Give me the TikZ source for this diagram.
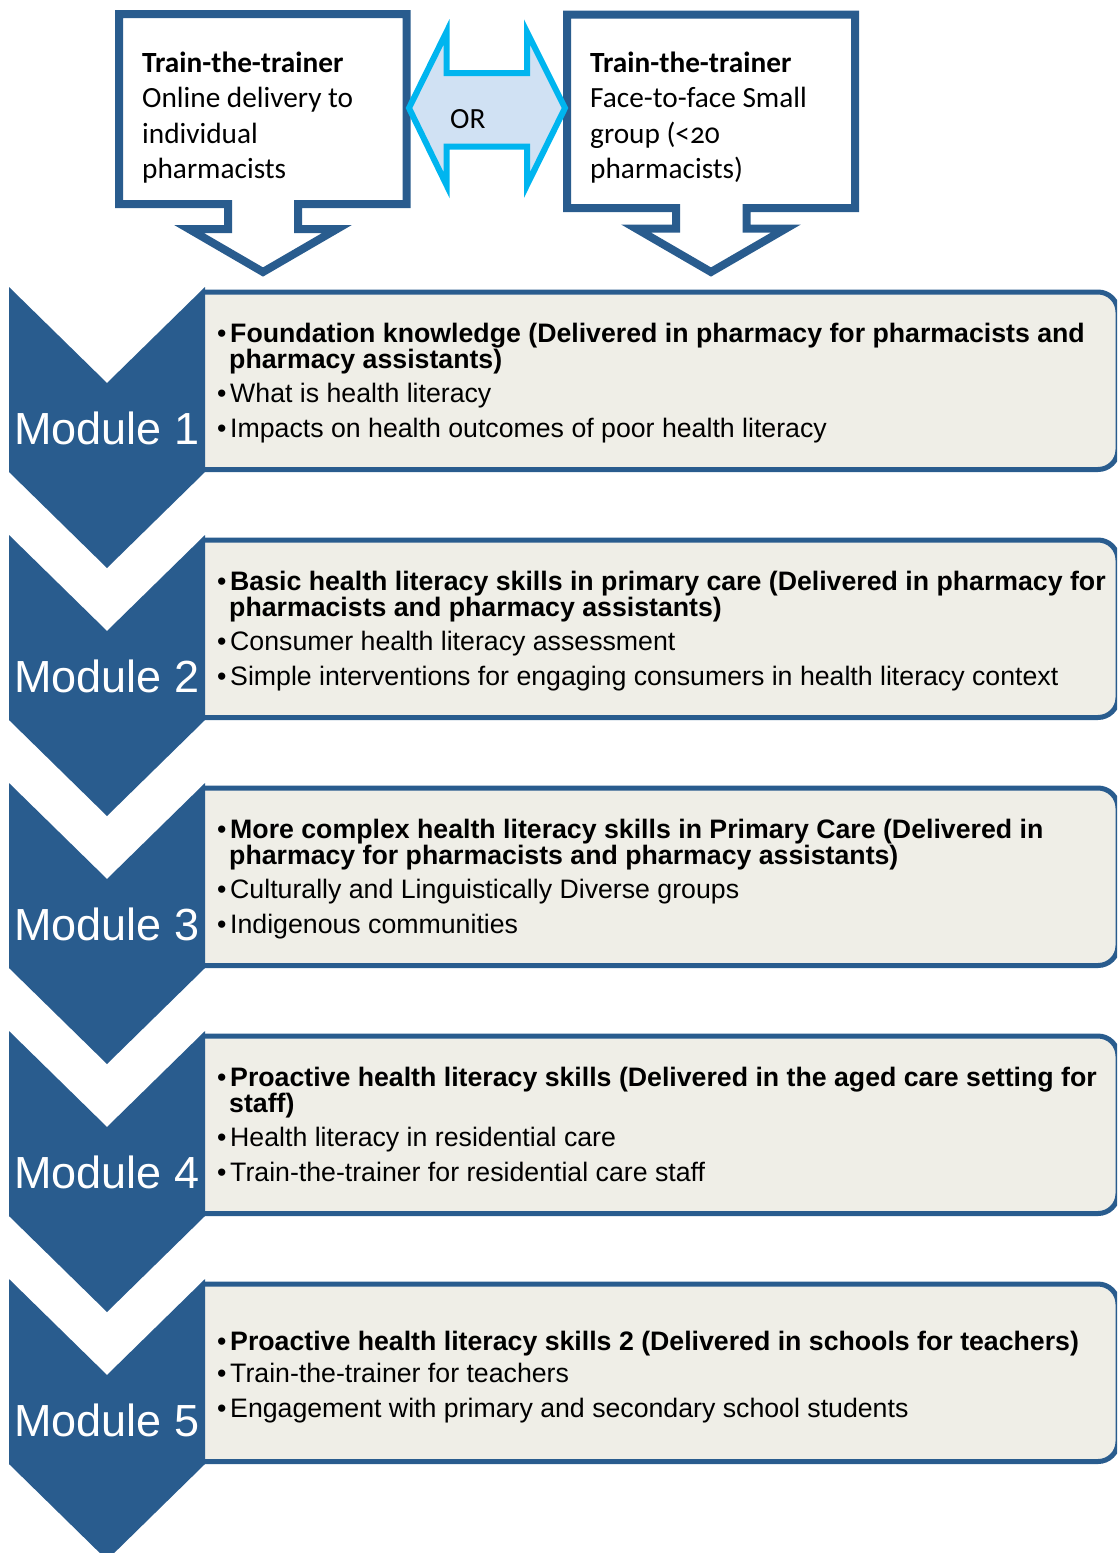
\documentclass[tikz,border=0pt]{standalone}
\usepackage{fontspec}
\setmainfont{Liberation Sans}
\newfontfamily\calfont[Numbers=OldStyle]{Carlito}
\definecolor{modblue}{RGB}{41,92,142}
\definecolor{boxfill}{RGB}{239,238,231}
\definecolor{orline}{RGB}{0,181,239}
\definecolor{orfill}{RGB}{208,225,243}
\tikzset{
  callout/.style={draw=modblue, line width=8pt, fill=white, miter limit=20},
  orarrow/.style={draw=orline, line width=6pt, fill=orfill, miter limit=20},
  chevron/.style={fill=modblue},
  textbox/.style={draw=modblue, line width=5pt, fill=boxfill, rounded corners=20pt},
  caltxt/.style={anchor=base west, inner sep=0pt, font=\calfont\fontsize{29.3}{35.5}\selectfont},
  modtxt/.style={anchor=base, inner sep=0pt, text=white, font=\fontsize{45}{45}\selectfont},
  itemtxt/.style={anchor=base west, inner sep=0pt, font=\fontsize{26.7}{30}\selectfont},
  headtxt/.style={itemtxt, font=\bfseries\fontsize{26.7}{30}\selectfont},
}
\begin{document}
\begin{tikzpicture}[x=1pt,y=-1pt]
\useasboundingbox (0,0) rectangle (1117,1553);
\clip (0,0) rectangle (1117,1553);

% two delivery options with their down arrows
\draw[callout] (119,14) -- (406.5,14) -- (406.5,204) -- (298,204) -- (298,229)
  -- (337,229) -- (263,272) -- (189,229) -- (228,229) -- (228,204) -- (119,204) -- cycle;
\draw[callout] (567,14.5) -- (855,14.5) -- (855,208) -- (746.5,208) -- (746.5,228.5)
  -- (786,228.5) -- (711,272) -- (636,228.5) -- (676,228.5) -- (676,208) -- (567,208) -- cycle;

% double-headed "OR" arrow
\draw[orarrow] (409,108) -- (446.5,32) -- (446.5,73) -- (527,73) -- (527,32)
  -- (565,108) -- (527,185) -- (527,146.5) -- (446.5,146.5) -- (446.5,185) -- cycle;
\node[caltxt] (ortxt) at (450,128) {OR};

\node[caltxt] (l1) at (142,72) {\bfseries Train-the-trainer};
\node[caltxt] (l2) at (142,107.5) {Online delivery to};
\node[caltxt] (l3) at (142,143) {individual};
\node[caltxt] (l4) at (142,178.5) {pharmacists};

\node[caltxt] (r1) at (590,72) {\bfseries Train-the-trainer};
\node[caltxt] (r2) at (590,107.5) {Face-to-face Small};
\node[caltxt] (r3) at (590,143) {group (<20};
\node[caltxt] (r4) at (590,178.5) {pharmacists)};

% module chevrons and content boxes
\foreach \k in {0,...,4} {
  \pgfmathsetmacro{\yo}{287+248*\k}
  \draw[textbox] (205,\yo+5) -- (1118,\yo+5) -- (1118,\yo+182.5) -- (205,\yo+182.5);
  \fill[chevron] (9,\yo) -- (107,\yo+96) -- (205,\yo) -- (205,\yo+185)
    -- (107,\yo+281) -- (9,\yo+185) -- cycle;
}
\node[modtxt] (m1) at (107,444) {Module 1};
\node[modtxt] (m2) at (107,692) {Module 2};
\node[modtxt] (m3) at (107,940) {Module 3};
\node[modtxt] (m4) at (107,1188) {Module 4};
\node[modtxt] (m5) at (107,1436) {Module 5};

% module 1
\node[itemtxt] (b1a) at (217,342) {•};
\node[headtxt] (h1a) at (230,342) {Foundation knowledge (Delivered in pharmacy for pharmacists and};
\node[headtxt] (h1b) at (229,368) {pharmacy assistants)};
\node[itemtxt] (b1b) at (217,402) {•};
\node[itemtxt] (i1a) at (230,402) {What is health literacy};
\node[itemtxt] (b1c) at (217,437) {•};
\node[itemtxt] (i1b) at (230,437) {Impacts on health outcomes of poor health literacy};

% module 2
\node[itemtxt] (b2a) at (217,590) {•};
\node[headtxt] (h2a) at (230,590) {Basic health literacy skills in primary care (Delivered in pharmacy for};
\node[headtxt] (h2b) at (229,616) {pharmacists and pharmacy assistants)};
\node[itemtxt] (b2b) at (217,650) {•};
\node[itemtxt] (i2a) at (230,650) {Consumer health literacy assessment};
\node[itemtxt] (b2c) at (217,685) {•};
\node[itemtxt] (i2b) at (230,685) {Simple interventions for engaging consumers in health literacy context};

% module 3
\node[itemtxt] (b3a) at (217,838) {•};
\node[headtxt] (h3a) at (230,838) {More complex health literacy skills in Primary Care (Delivered in};
\node[headtxt] (h3b) at (229,864) {pharmacy for pharmacists and pharmacy assistants)};
\node[itemtxt] (b3b) at (217,898) {•};
\node[itemtxt] (i3a) at (230,898) {Culturally and Linguistically Diverse groups};
\node[itemtxt] (b3c) at (217,933) {•};
\node[itemtxt] (i3b) at (230,933) {Indigenous communities};

% module 4
\node[itemtxt] (b4a) at (217,1086) {•};
\node[headtxt] (h4a) at (230,1086) {Proactive health literacy skills (Delivered in the aged care setting for};
\node[headtxt] (h4b) at (229,1112) {staff)};
\node[itemtxt] (b4b) at (217,1146) {•};
\node[itemtxt] (i4a) at (230,1146) {Health literacy in residential care};
\node[itemtxt] (b4c) at (217,1181) {•};
\node[itemtxt] (i4b) at (230,1181) {Train-the-trainer for residential care staff};

% module 5
\node[itemtxt] (b5a) at (217,1350) {•};
\node[headtxt] (h5a) at (230,1350) {Proactive health literacy skills 2 (Delivered in schools for teachers)};
\node[itemtxt] (b5b) at (217,1382) {•};
\node[itemtxt] (i5a) at (230,1382) {Train-the-trainer for teachers};
\node[itemtxt] (b5c) at (217,1417) {•};
\node[itemtxt] (i5b) at (230,1417) {Engagement with primary and secondary school students};
\end{tikzpicture}
\end{document}
